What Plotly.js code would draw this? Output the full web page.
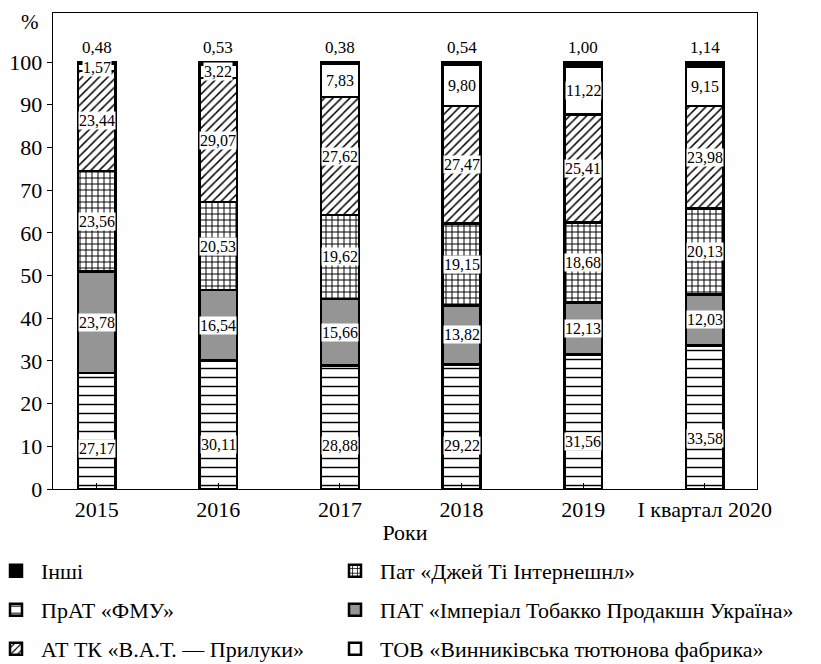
<!DOCTYPE html>
<html>
<head>
<meta charset="utf-8">
<script src="https://cdn.plot.ly/plotly-3.0.1.min.js"></script>
<style>html,body{margin:0;padding:0;background:#fff;}#chart{width:821px;height:664px;}</style>
</head>
<body>
<div id="chart"></div>
<script>
const categories = ['2015', '2016', '2017', '2018', '2019', 'І квартал 2020'];
const tickLabels = ['2015', '2016', '2017', '2018', '2019', 'І квартал 2020'];
const fmu = [27.17, 30.11, 28.88, 29.22, 31.56, 33.58];
const imperial = [23.78, 16.54, 15.66, 13.82, 12.13, 12.03];
const jti = [23.56, 20.53, 19.62, 19.15, 18.68, 20.13];
const bat = [23.44, 29.07, 27.62, 27.47, 25.41, 23.98];
const vynnyky = [1.57, 3.22, 7.83, 9.80, 11.22, 9.15];
const others = [0.48, 0.53, 0.38, 0.54, 1.00, 1.14];

const FONT = 'Liberation Serif';
const idx = categories.map((_, i) => i);
const fmt = v => v.toFixed(2).replace('.', ',');

const series = [
  {name: 'ПрАТ «ФМУ»', y: fmu, legend: 'legend3', pattern: {shape: '-', size: 9, solidity: 0.16}, color: '#fff', frac: 0.35},
  {name: 'ПАТ «Імперіал Тобакко Продакшн Україна»', y: imperial, legend: 'legend4', color: '#959595', frac: 0.5},
  {name: 'Пат «Джей Ті Інтернешнл»', y: jti, legend: 'legend2', pattern: {shape: '+', size: 6, solidity: 0.3}, color: '#fff', frac: 0.5},
  {name: 'АТ ТК «В.А.Т. — Прилуки»', y: bat, legend: 'legend5', pattern: {shape: '/', size: 6, solidity: 0.25}, color: '#fff', frac: 0.5},
  {name: 'ТОВ «Винниківська тютюнова фабрика»', y: vynnyky, legend: 'legend6', color: '#fff', frac: 0.5},
  {name: 'Інші', y: others, legend: 'legend', color: '#000', frac: null}
];

const traces = series.map(s => {
  const marker = {color: s.color, line: {color: '#000', width: 2.5}};
  if (s.pattern) marker.pattern = Object.assign({fgcolor: '#000', bgcolor: '#fff', fillmode: 'replace'}, s.pattern);
  return {
    type: 'bar', x: idx, y: s.y, name: s.name, legend: s.legend,
    width: 0.31, marker: marker, hoverinfo: 'skip'
  };
});

const annotations = [];
const cum = idx.map(() => 0);
series.forEach(s => {
  s.y.forEach((v, i) => {
    if (s.frac !== null) {
      annotations.push({
        x: i, y: cum[i] + v * s.frac, xref: 'x', yref: 'y', text: fmt(v), showarrow: false,
        bgcolor: '#fff', borderpad: 0, font: {family: FONT, size: 16, color: '#000'}
      });
    } else {
      annotations.push({
        x: i, y: cum[i] + v, xref: 'x', yref: 'y', text: fmt(v), showarrow: false,
        yanchor: 'bottom', yshift: 3, font: {family: FONT, size: 17, color: '#000'}
      });
    }
    cum[i] += v;
  });
});
annotations.push({
  x: 0, y: 1, xref: 'paper', yref: 'paper', xanchor: 'right', yanchor: 'top',
  xshift: -12, yshift: 5, text: '%', showarrow: false, font: {family: FONT, size: 21, color: '#000'}
});

const plotW = 821 - 53 - 64;
const plotH = 664 - 13 - 175;
const rowY = px => -(px - 489) / plotH;
const colX = px => (px - 53) / plotW;
const legendBase = {
  orientation: 'h', xanchor: 'left', yanchor: 'middle', traceorder: 'normal',
  font: {family: FONT, size: 22, color: '#000'}, itemwidth: 40, bgcolor: 'rgba(0,0,0,0)'
};
const cols = [colX(-9), colX(330)];
const rows = [rowY(571), rowY(610), rowY(649)];
const legendPos = {legend: [0, 0], legend2: [1, 0], legend3: [0, 1], legend4: [1, 1], legend5: [0, 2], legend6: [1, 2]};

const layout = {
  width: 821, height: 664,
  margin: {l: 53, r: 64, t: 13, b: 175, autoexpand: false},
  paper_bgcolor: '#fff', plot_bgcolor: '#fff',
  font: {family: FONT, color: '#000', size: 22},
  barmode: 'stack',
  showlegend: true,
  xaxis: {
    range: [-0.36, 5.43], tickvals: idx, ticktext: tickLabels, automargin: false,
    tickson: 'boundaries', ticks: 'inside', ticklen: 6, tickcolor: '#000', tickwidth: 1,
    showline: true, linecolor: '#000', linewidth: 1.3, mirror: true, showgrid: false, zeroline: false,
    tickfont: {family: FONT, size: 22, color: '#000'},
    title: {text: 'Роки', font: {family: FONT, size: 22, color: '#000'}, standoff: 4}
  },
  yaxis: {
    range: [0, 111.5], tickvals: [0,10,20,30,40,50,60,70,80,90,100], automargin: false,
    ticks: 'outside', ticklen: 5, tickcolor: '#000',
    showline: true, linecolor: '#000', linewidth: 1.3, mirror: true, showgrid: false, zeroline: false,
    tickfont: {family: FONT, size: 22, color: '#000'}
  },
  annotations: annotations
};
Object.keys(legendPos).forEach(k => {
  const [c, r] = legendPos[k];
  layout[k] = Object.assign({}, legendBase, {x: cols[c], y: rows[r]});
});

Plotly.newPlot('chart', traces, layout, {displayModeBar: false, staticPlot: true});
</script>
</body>
</html>
